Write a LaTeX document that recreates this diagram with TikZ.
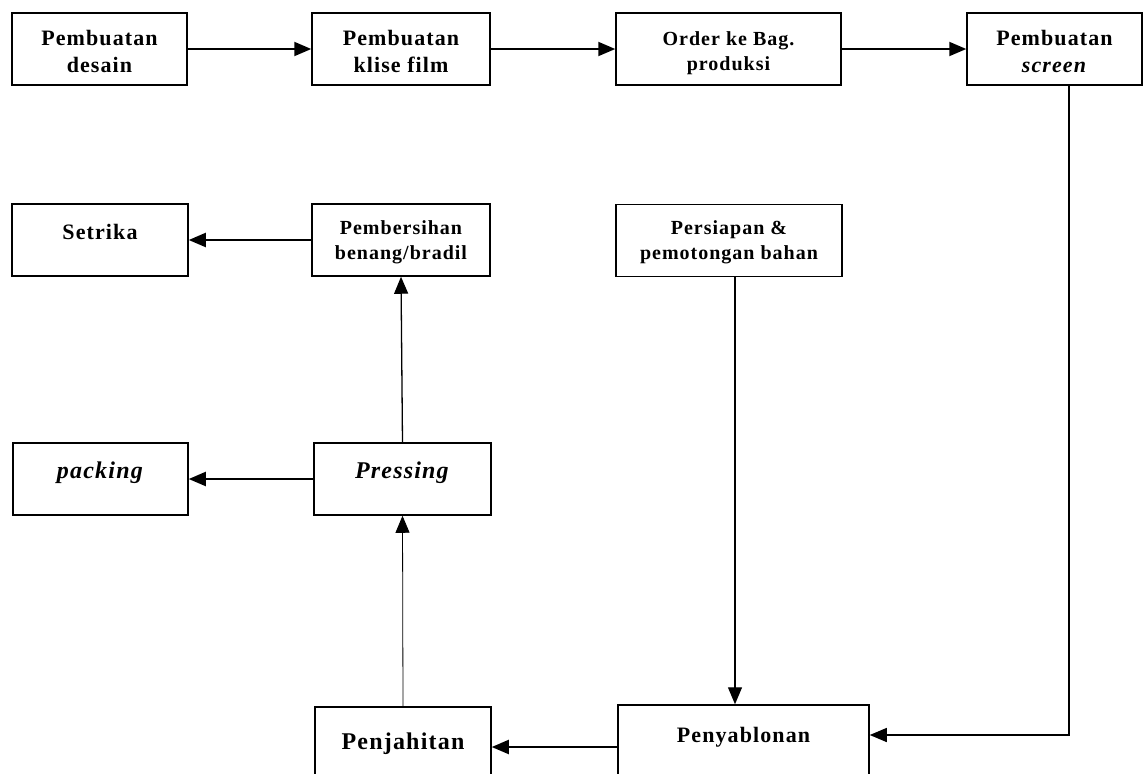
\documentclass[tikz,border=0pt]{standalone}
\usepackage{fontspec}
\setmainfont{Liberation Serif}[LetterSpace=5]
\usetikzlibrary{arrows.meta}
\newcommand{\fsA}{\fontsize{22}{27}\selectfont\bfseries}
\newcommand{\fsB}{\fontsize{20}{25}\selectfont\bfseries}
\newcommand{\fsC}{\fontsize{24}{28}\selectfont\bfseries}
\begin{document}
\begin{tikzpicture}[x=1pt,y=-1pt,
  box/.style={draw,line width=1.5pt,rectangle,inner sep=0pt,align=center},
  toprow/.style={box,minimum height=72pt,font=\fsA,text height=46pt,text depth=0pt},
  midrow/.style={box,minimum height=72pt,font=\fsB,text height=38pt,text depth=0pt},
  tip/.style={-{Triangle[length=17pt,width=14pt]}},
  arr/.style={line width=2pt,tip},
  thinarr/.style={line width=1.3pt,tip}]
\useasboundingbox (0,0) rectangle (1144,774);
\clip (0,0) rectangle (1144,774);
% top row
\node[toprow,minimum width=175pt] (desain) at (99.5,49) {Pembuatan\\desain};
\node[toprow,minimum width=178pt] (klise) at (401,49) {Pembuatan\\klise film};
\node[toprow,minimum width=225pt,font=\fsB,text height=42pt] (order) at (728.5,49) {Order ke Bag.\\produksi};
\node[toprow,minimum width=175pt] (screen) at (1054.5,49) {Pembuatan\\\textit{screen}};
% second row
\node[box,minimum width=176pt,minimum height=72pt,font=\fsA,text height=15pt,text depth=17pt] (setrika) at (100,240) {Setrika};
\node[midrow,minimum width=178pt] (bersih) at (401,240) {Pembersihan\\benang/bradil};
\node[midrow,minimum width=226pt] (persiapan) at (729,240.5) {Persiapan \&\\pemotongan bahan};
% third row
\node[box,minimum width=175pt,minimum height=72pt,font=\fsC,text height=16pt,text depth=18pt] (packing) at (100.5,479) {\textit{packing}};
\node[box,minimum width=177pt,minimum height=72pt,font=\fsC,text height=16pt,text depth=18pt] (pressing) at (402.5,479) {\textit{Pressing}};
% bottom row (cut by the page edge)
\node[box,minimum width=176pt,minimum height=83pt,font=\fsC,text height=16pt,text depth=15pt] (jahit) at (403,748.5) {Penjahitan};
\node[box,minimum width=251pt,minimum height=85pt,font=\fsA,text height=15pt,text depth=26pt] (sablon) at (743.5,747.5) {Penyablonan};
% helper coordinates
\coordinate (cScreen) at (1069,735);
\coordinate (cPers) at (735,0);
\coordinate (cJahit) at (0,747);
% connectors
\draw[arr] (desain) -- (klise);
\draw[arr] (klise) -- (order);
\draw[arr] (order) -- (screen);
\draw[thinarr] (screen.south -| cScreen) -- (cScreen) -- (cScreen -| sablon.east);
\draw[thinarr] (persiapan.south -| cPers) -- (sablon.north -| cPers);
\draw[arr] (sablon.west |- cJahit) -- (jahit.east |- cJahit);
\draw[line width=0.8pt,tip] (jahit.north) -- (pressing.south);
\draw[thinarr] (pressing.north) -- (bersih.south);
\draw[arr] (bersih) -- (setrika);
\draw[arr] (pressing) -- (packing);
\end{tikzpicture}
\end{document}
